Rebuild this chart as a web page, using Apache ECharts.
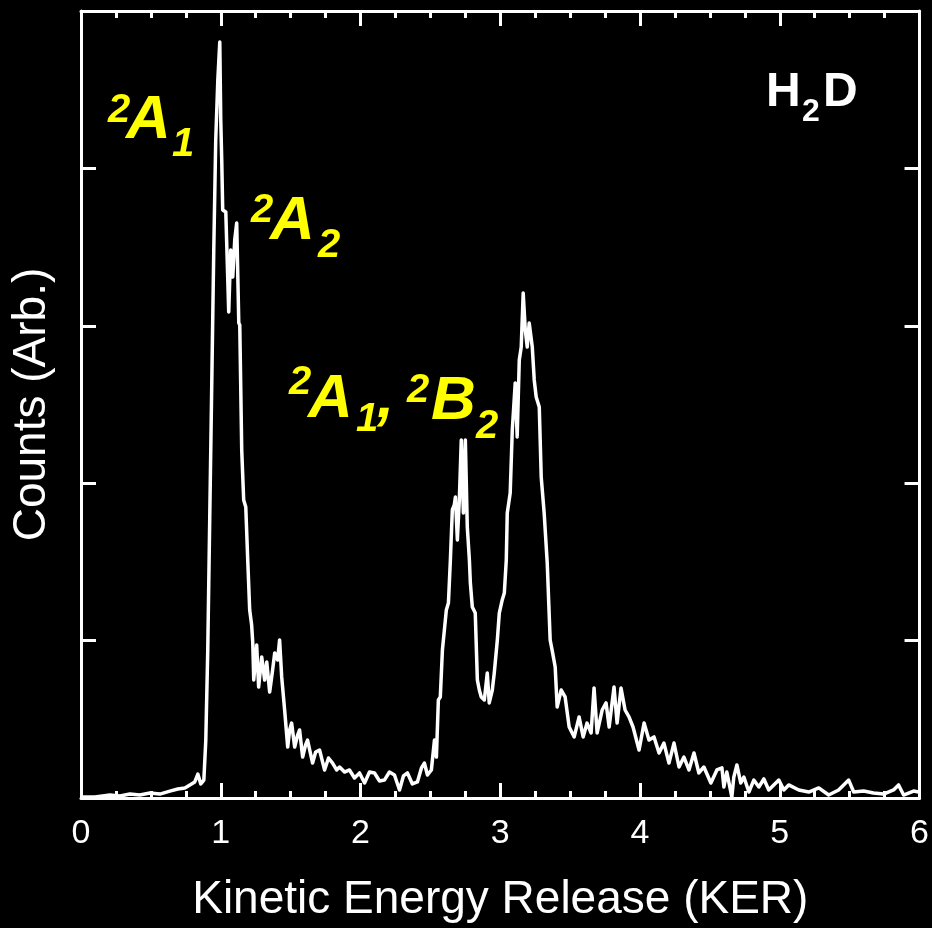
<!DOCTYPE html>
<html>
<head>
<meta charset="utf-8">
<script src="https://cdn.jsdelivr.net/npm/echarts@6/dist/echarts.min.js"></script>
<style>
html,body{margin:0;padding:0;background:#000;}
#chart{width:932px;height:928px;}
</style>
</head>
<body>
<div id="chart"></div>
<script>
// Kinetic Energy Release values (x)
const kerValues = [
0.000,0.100,0.207,0.279,0.350,0.421,0.493,0.564,0.636,0.693,0.743,0.779,0.814,0.836,0.857,0.879,
0.893,0.907,0.921,0.936,0.950,0.964,0.979,0.993,1.000,1.007,1.014,1.036,1.057,1.071,1.086,1.100,
1.114,1.129,1.136,1.150,1.164,1.179,1.193,1.207,1.221,1.229,1.236,1.257,1.271,1.293,1.314,1.329,
1.350,1.371,1.386,1.407,1.421,1.436,1.457,1.479,1.493,1.507,1.529,1.550,1.564,1.586,1.607,1.621,
1.657,1.679,1.707,1.743,1.771,1.800,1.829,1.850,1.886,1.921,1.957,1.993,2.029,2.064,2.100,2.136,
2.171,2.207,2.243,2.279,2.307,2.336,2.371,2.407,2.436,2.457,2.479,2.507,2.529,2.543,2.557,2.571,
2.586,2.600,2.614,2.629,2.643,2.657,2.671,2.679,2.693,2.707,2.721,2.736,2.750,2.764,2.779,2.786,
2.800,2.821,2.836,2.850,2.864,2.886,2.907,2.921,2.943,2.957,2.979,2.993,3.014,3.029,3.043,3.050,
3.071,3.086,3.107,3.121,3.136,3.150,3.164,3.179,3.193,3.207,3.229,3.243,3.257,3.279,3.293,3.314,
3.336,3.357,3.371,3.393,3.407,3.436,3.464,3.493,3.529,3.564,3.593,3.621,3.650,3.671,3.693,3.729,
3.757,3.779,3.814,3.836,3.864,3.893,3.921,3.950,3.993,4.029,4.064,4.100,4.136,4.171,4.207,4.243,
4.279,4.314,4.350,4.386,4.421,4.457,4.507,4.550,4.586,4.600,4.621,4.657,4.671,4.693,4.721,4.743,
4.779,4.814,4.850,4.886,4.921,4.993,5.029,5.064,5.136,5.207,5.279,5.350,5.421,5.493,5.529,5.600,
5.671,5.743,5.814,5.850,5.886,5.957,5.993
];
// Counts (arbitrary units)
const countValues = [
0.006,0.006,0.019,0.013,0.025,0.019,0.032,0.025,0.044,0.057,0.064,0.083,0.102,0.152,0.089,0.114,
0.368,0.940,1.766,2.656,3.482,4.180,4.562,4.803,4.308,4.053,3.736,3.723,3.088,3.482,3.310,3.545,
3.653,3.018,3.005,2.211,1.893,1.849,1.512,1.194,1.099,0.985,0.750,0.972,0.705,0.896,0.750,0.864,
0.673,0.813,0.921,0.877,1.004,0.769,0.559,0.324,0.432,0.476,0.324,0.400,0.432,0.260,0.337,0.368,
0.222,0.292,0.305,0.178,0.254,0.222,0.178,0.197,0.165,0.178,0.127,0.159,0.095,0.165,0.159,0.108,
0.114,0.165,0.146,0.051,0.140,0.159,0.089,0.102,0.191,0.222,0.146,0.178,0.368,0.260,0.623,0.642,
0.940,1.067,1.194,1.239,1.512,1.830,1.862,1.912,1.639,1.893,2.274,1.811,2.274,1.722,1.512,1.366,
1.213,1.175,0.750,0.686,0.642,0.623,0.794,0.604,0.686,0.794,1.004,1.175,1.258,1.302,1.512,1.811,
1.938,2.338,2.637,2.294,2.783,2.865,3.208,2.973,2.865,3.018,2.865,2.656,2.548,2.484,2.039,1.811,
1.493,1.004,0.940,0.832,0.578,0.686,0.642,0.451,0.388,0.515,0.388,0.476,0.413,0.699,0.413,0.559,
0.604,0.451,0.705,0.476,0.699,0.559,0.515,0.451,0.305,0.476,0.368,0.388,0.286,0.349,0.222,0.349,
0.197,0.260,0.178,0.286,0.159,0.197,0.095,0.178,0.191,0.070,0.165,0.006,0.133,0.210,0.095,0.133,
0.038,0.114,0.070,0.121,0.051,0.114,0.051,0.083,0.051,0.038,0.064,0.019,0.051,0.114,0.038,0.044,
0.032,0.025,0.051,0.083,0.019,0.044,0.038
];
const xTickLabels = ['0','1','2','3','4','5','6'];
const xTitle = 'Kinetic Energy Release (KER)';
const yTitle = 'Counts (Arb.)';

const FONT = '"Liberation Sans", Arial, Helvetica, sans-serif';
const chart = echarts.init(document.getElementById('chart'), null, {renderer: 'canvas'});

const seriesData = kerValues.map((k, i) => [k, countValues[i]]);

function txt(text, x, y, size, color, italic) {
  return {
    type: 'text', z: 100,
    style: {
      text: text, x: x, y: y,
      fill: color,
      fontSize: size, fontWeight: 'bold', fontStyle: italic ? 'italic' : 'normal',
      fontFamily: FONT,
      align: 'left', verticalAlign: 'middle'
    }
  };
}
const Y = '#ffff00', W = '#ffffff';
const graphics = [
  txt('2', 108, 111, 40, Y, true), txt('A', 126, 121, 62, Y, true), txt('1', 172, 145, 40, Y, true),
  txt('2', 251, 211, 40, Y, true), txt('A', 270, 222, 62, Y, true), txt('2', 318, 246, 40, Y, true),
  txt('2', 289, 383, 40, Y, true), txt('A', 308, 400, 62, Y, true), txt('1', 356, 420, 40, Y, true),
  txt(',', 377, 400, 62, Y, true),
  txt('2', 407, 391, 40, Y, true), txt('B', 431, 402, 62, Y, true), txt('2', 476, 427, 40, Y, true),
  txt('H', 766, 93, 48, W, false), txt('2', 802, 112, 32, W, false), txt('D', 823, 93, 48, W, false)
];

const axisLine = {show: true, onZero: false, lineStyle: {color: '#fff', width: 3}};
const option = {
  backgroundColor: '#000',
  animation: false,
  grid: {left: 81, right: 11, top: 11, bottom: 130, containLabel: false},
  xAxis: [{
    type: 'value', min: 0, max: 6, interval: 1, position: 'bottom',
    axisLine: axisLine,
    axisTick: {show: true, inside: true, length: 15, lineStyle: {color: '#fff', width: 3}},
    minorTick: {show: true, splitNumber: 4, length: 7, lineStyle: {color: '#fff', width: 3}},
    splitLine: {show: false},
    axisLabel: {show: true, color: '#fff', fontSize: 34, fontFamily: FONT, margin: 19,
      formatter: (v) => xTickLabels[Math.round(v)]},
    name: xTitle, nameLocation: 'middle', nameGap: 79,
    nameTextStyle: {color: '#fff', fontSize: 46, fontFamily: FONT}
  }, {
    type: 'value', min: 0, max: 6, interval: 1, position: 'top',
    axisLine: axisLine,
    axisTick: {show: true, inside: true, length: 15, lineStyle: {color: '#fff', width: 3}},
    minorTick: {show: true, splitNumber: 4, length: 7, lineStyle: {color: '#fff', width: 3}},
    splitLine: {show: false},
    axisLabel: {show: false}
  }],
  yAxis: [{
    type: 'value', min: 0, max: 5, interval: 1, position: 'left',
    axisLine: axisLine,
    axisTick: {show: true, inside: true, length: 15, lineStyle: {color: '#fff', width: 3}},
    splitLine: {show: false},
    axisLabel: {show: false},
    name: yTitle, nameLocation: 'middle', nameGap: 26, nameRotate: 90,
    nameTextStyle: {color: '#fff', fontSize: 46, fontFamily: FONT}
  }, {
    type: 'value', min: 0, max: 5, interval: 1, position: 'right',
    axisLine: axisLine,
    axisTick: {show: true, inside: true, length: 15, lineStyle: {color: '#fff', width: 3}},
    splitLine: {show: false},
    axisLabel: {show: false}
  }],
  series: [{
    type: 'line', xAxisIndex: 0, yAxisIndex: 0,
    data: seriesData, showSymbol: false, symbol: 'none',
    lineStyle: {color: '#fff', width: 3.5, join: 'round'},
    clip: true, z: 5
  }],
  graphic: graphics
};
chart.setOption(option);
</script>
</body>
</html>
